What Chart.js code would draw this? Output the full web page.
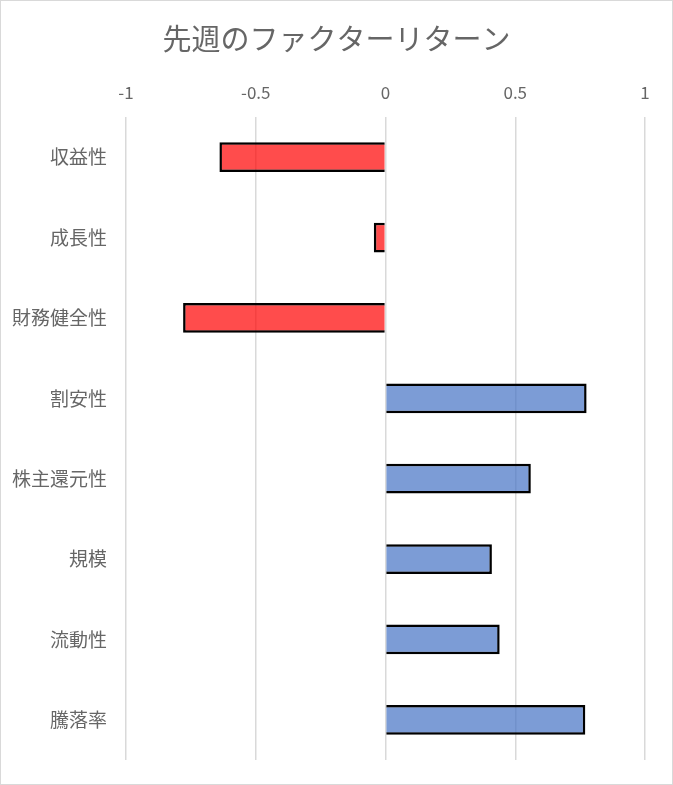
<!DOCTYPE html>
<html>
<head>
<meta charset="utf-8">
<script src="https://cdn.jsdelivr.net/npm/chart.js@4"></script>
<style>
    html, body { margin: 0; padding: 0; background: #fff; }
    #box {
        width: 671px;
        height: 783px;
        border: 1px solid #d9d9d9;
        position: relative;
    }
</style>
</head>
<body>
<div id="box"><canvas id="chart"></canvas></div>
<script>
// factor returns from last week
const factors = ['収益性', '成長性', '財務健全性', '割安性', '株主還元性', '規模', '流動性', '騰落率'];
const returns = [-0.64, -0.045, -0.78, 0.775, 0.56, 0.41, 0.44, 0.77];
const tickLabels = ['-1', '-0.5', '0', '0.5', '1'];

const FONT = '"Noto Sans CJK JP", "Noto Sans", sans-serif';
const TEXT = '#666666';

const canvas = document.getElementById('chart');

new Chart(canvas, {
    type: 'bar',
    data: {
        labels: factors,
        datasets: [{
            data: returns,
            backgroundColor: ctx => ctx.raw < 0 ? 'rgba(255,0,0,0.7)' : 'rgba(68,114,196,0.7)',
            borderColor: '#000',
            borderWidth: 2.5,
            barPercentage: 0.37,
            categoryPercentage: 1
        }]
    },
    options: {
        indexAxis: 'y',
        responsive: true,
        maintainAspectRatio: false,
        animation: false,
        layout: {
            padding: { left: 0, right: 0, top: 0, bottom: 24 }
        },
        plugins: {
            legend: { display: false },
            tooltip: { enabled: false },
            title: {
                display: true,
                text: '先週のファクターリターン',
                color: TEXT,
                font: { family: FONT, size: 29, weight: 'normal' },
                padding: { top: 21, bottom: 0 }
            }
        },
        scales: {
            x: {
                position: 'top',
                min: -1,
                max: 1,
                border: { display: false },
                grid: {
                    color: '#d9d9d9',
                    lineWidth: 1.5,
                    drawTicks: false
                },
                ticks: {
                    stepSize: 0.5,
                    padding: 14,
                    color: TEXT,
                    font: { family: FONT, size: 17 },
                    callback: (v, i) => tickLabels[i]
                },
                afterFit: scale => { scale.height = 60.2; }
            },
            y: {
                border: { display: false },
                grid: { display: false },
                ticks: {
                    padding: 11,
                    color: TEXT,
                    font: { family: FONT, size: 19 }
                },
                afterFit: scale => { scale.width = 125; }
            },
            // empty right margin so the title stays centred on the whole box
            gap: {
                type: 'category',
                position: 'right',
                border: { display: false },
                grid: { display: false },
                ticks: { display: false },
                afterFit: scale => { scale.width = 27; }
            }
        }
    }
});
</script>
</body>
</html>
